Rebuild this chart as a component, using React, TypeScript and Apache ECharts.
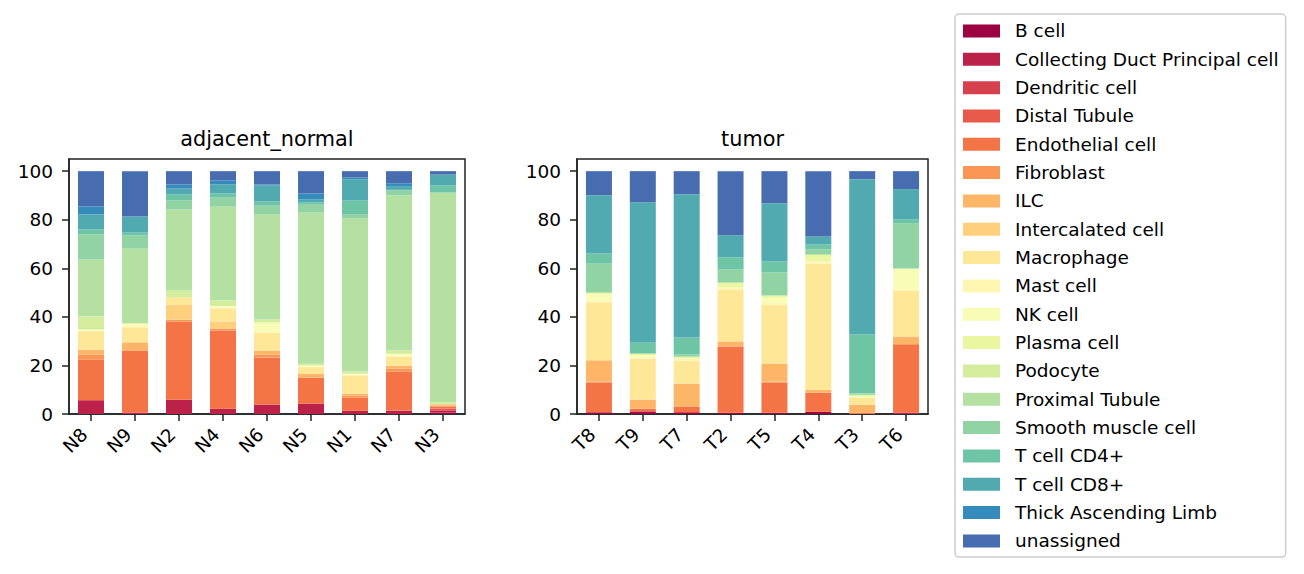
import React, { useEffect, useRef } from "react";
import * as echarts from "echarts";

const cellTypes = [
  "B cell", "Collecting Duct Principal cell", "Dendritic cell", "Distal Tubule",
  "Endothelial cell", "Fibroblast", "ILC", "Intercalated cell", "Macrophage",
  "Mast cell", "NK cell", "Plasma cell", "Podocyte", "Proximal Tubule",
  "Smooth muscle cell", "T cell CD4+", "T cell CD8+", "Thick Ascending Limb", "unassigned",
];
const cellColors = [
  "#9e0142", "#bb2149", "#d7404e", "#e75948", "#f57446", "#fa9656", "#fdb668",
  "#fed07e", "#fee796", "#fff7b1", "#f8fcb5", "#ebf7a0", "#d3ed9c", "#b4e1a2",
  "#92d3a4", "#6dc5a5", "#50aaaf", "#358bbc", "#476db0",
];

// percentages per sample, in cellTypes order
const N8 = [0, 5.4, 0.4, 0, 16.6, 2.0, 2.1, 0, 7.6, 0.3, 0.4, 0, 5.3, 23.5, 10.4, 2.0, 6.2, 3.3, 14.5];
const N9 = [0, 0.6, 0, 0, 25.5, 0, 3.4, 0, 6.2, 0.6, 0.9, 0, 0.3, 30.6, 5.4, 1.2, 6.6, 0, 18.7];
const N2 = [0, 5.9, 0, 0, 32.2, 0.7, 0, 6.3, 2.9, 0, 0, 0, 2.9, 33.3, 3.7, 2.5, 2.4, 1.7, 5.5];
const N4 = [0, 2.2, 0, 0, 32.2, 0.8, 0, 2.9, 5.4, 0.3, 0.7, 0, 2.2, 38.7, 3.7, 1.7, 3.7, 1.6, 3.9];
const N6 = [0, 3.9, 0, 0, 19.3, 1.3, 1.6, 0, 7.4, 0.3, 3.9, 0, 1.2, 43.2, 3.7, 1.7, 6.6, 0.4, 5.5];
const N5 = [0, 4.3, 0, 0, 10.7, 0, 1.6, 0, 2.7, 0.2, 0.5, 0, 0.7, 62.2, 3.3, 0.9, 1.2, 2.5, 9.2];
const N1 = [0, 1.3, 0, 0, 5.4, 0.8, 0.9, 0, 7.5, 0.3, 0.4, 0, 0.9, 63.0, 1.6, 5.8, 8.7, 0.8, 2.6];
const N7 = [0, 1.4, 0, 0, 16.1, 1.2, 1.2, 0, 3.7, 0.4, 0.8, 0, 1.3, 63.9, 2.0, 0.3, 1.3, 1.4, 5.0];
const N3 = [0.6, 0.9, 0, 0.8, 0.8, 0.4, 0.5, 0, 0, 0, 0, 0, 0.7, 86.5, 0, 2.9, 4.5, 0, 1.4];

const T8 = [0.7, 0, 0, 0, 12.3, 0.4, 8.7, 0, 23.9, 0.8, 2.4, 0.8, 0, 0, 11.9, 4.2, 24.0, 0, 9.9];
const T9 = [0.8, 0.3, 0, 0, 1.1, 0, 3.7, 0, 16.9, 0.8, 0.6, 0.6, 0, 0, 0.3, 4.2, 57.9, 0, 12.8];
const T7 = [0.4, 0, 0.4, 0, 2.3, 0, 9.4, 0, 9.5, 0.8, 0, 0.8, 0, 0, 0.9, 7.0, 59.0, 0, 9.5];
const T2 = [0.5, 0, 0, 0, 27.3, 0, 2.1, 0, 21.4, 0.8, 0, 2.0, 0, 0, 5.4, 5.0, 9.1, 0, 26.4];
const T5 = [0.3, 0.3, 0, 0, 12.3, 0.4, 7.5, 0, 24.2, 0.8, 2.1, 0.9, 0, 0, 9.5, 4.5, 24.0, 0, 13.2];
const T4 = [0.9, 0, 0, 0, 7.9, 0, 1.2, 0, 52.0, 0.8, 0, 2.7, 0, 0.4, 1.9, 2.0, 3.3, 0, 26.9];
const T3 = [0, 0, 0, 0, 0.6, 0, 3.2, 0, 2.9, 0.4, 0, 0.8, 0, 0, 0.6, 24.2, 64.0, 0, 3.3];
const T6 = [0, 0.6, 0, 0, 27.8, 0.4, 3.1, 0, 19.0, 0.5, 8.1, 0.4, 0, 0, 18.6, 1.7, 12.4, 0, 7.4];

const normalLabels = ["N8", "N9", "N2", "N4", "N6", "N5", "N1", "N7", "N3"];
const normalValues = [N8, N9, N2, N4, N6, N5, N1, N7, N3];
const tumorLabels = ["T8", "T9", "T7", "T2", "T5", "T4", "T3", "T6"];
const tumorValues = [T8, T9, T7, T2, T5, T4, T3, T6];
const yTicks = [0, 20, 40, 60, 80, 100];

const FONT = "DejaVu Sans";
const INK = "#222222";

export default function App() {
  const ref = useRef<HTMLDivElement>(null);
  useEffect(() => {
    if (!ref.current) return;
    const chart = echarts.init(ref.current, null, { renderer: "svg" });

    const makeX = (gridIndex: number, data: string[]) => ({
      type: "category",
      gridIndex,
      data,
      axisLine: { show: true, lineStyle: { color: INK, width: 1.5 } },
      axisTick: { show: true, alignWithLabel: true, length: 7, lineStyle: { color: INK, width: 1.5 } },
      axisLabel: {
        rotate: 45, margin: 24, verticalAlign: "bottom",
        color: "#000", fontFamily: FONT, fontSize: 18.5, interval: 0,
      },
      splitLine: { show: false },
    });
    const makeY = (gridIndex: number) => ({
      type: "value",
      gridIndex,
      min: 0,
      max: 105,
      interval: 20,
      axisLine: { show: true, lineStyle: { color: INK, width: 1.5 } },
      axisTick: { show: true, length: 7, customValues: yTicks, lineStyle: { color: INK, width: 1.5 } },
      axisLabel: { customValues: yTicks, margin: 16, color: "#000", fontFamily: FONT, fontSize: 18.5 },
      splitLine: { show: false },
    });

    const series: any[] = [];
    cellTypes.forEach((name, k) => {
      series.push({
        type: "bar", name, stack: "normal", xAxisIndex: 0, yAxisIndex: 0, barWidth: 26,
        itemStyle: { color: cellColors[k] },
        emphasis: { disabled: true },
        data: normalValues.map((s) => s[k]),
      });
      series.push({
        type: "bar", name, stack: "tumor", xAxisIndex: 1, yAxisIndex: 1, barWidth: 26,
        itemStyle: { color: cellColors[k] },
        emphasis: { disabled: true },
        data: tumorValues.map((s) => s[k]),
      });
    });

    const gridStyle = { show: true, borderColor: INK, borderWidth: 1.5, top: 159, height: 255 };
    chart.setOption({
      animation: false,
      backgroundColor: "#ffffff",
      textStyle: { fontFamily: FONT },
      title: [
        { text: "adjacent_normal", left: 267, top: 128, textAlign: "center", padding: 0,
          textStyle: { fontFamily: FONT, fontSize: 20.8, fontWeight: "normal", color: "#000" } },
        { text: "tumor", left: 752.5, top: 128, textAlign: "center", padding: 0,
          textStyle: { fontFamily: FONT, fontSize: 20.8, fontWeight: "normal", color: "#000" } },
      ],
      legend: {
        data: cellTypes,
        orient: "vertical",
        left: 955,
        top: 14,
        padding: [2.8, 7, 2, 8],
        itemGap: 0,
        itemWidth: 37,
        itemHeight: 13,
        icon: "rect",
        backgroundColor: "#ffffff",
        borderColor: "#cccccc",
        borderWidth: 1.5,
        borderRadius: 4,
        selectedMode: false,
        textStyle: {
          fontFamily: FONT, fontSize: 18.5, color: "#000", lineHeight: 28.33,
          padding: [0, 0, 0, 10],
        },
      },
      grid: [
        { ...gridStyle, left: 69, width: 396 },
        { ...gridStyle, left: 577, width: 351 },
      ],
      xAxis: [makeX(0, normalLabels), makeX(1, tumorLabels)],
      yAxis: [makeY(0), makeY(1)],
      series,
    });
    return () => chart.dispose();
  }, []);
  return (
    <div
      ref={ref}
      style={{ position: "absolute", left: 0, top: 0, width: 1304, height: 574 }}
    />
  );
}
